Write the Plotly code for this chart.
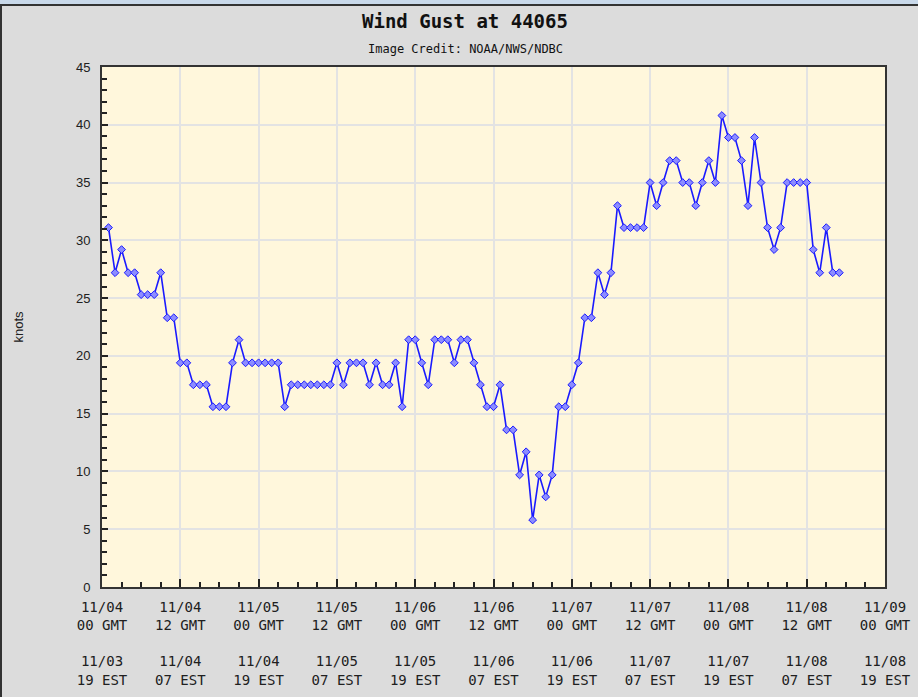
import plotly.graph_objects as go
import pandas as pd

# Wind gust values (knots), hourly from 11/04 01 GMT
gust_knots = [
    31.1, 27.2, 29.2, 27.2, 27.2, 25.3, 25.3, 25.3, 27.2, 23.3,
    23.3, 19.4, 19.4, 17.5, 17.5, 17.5, 15.6, 15.6, 15.6, 19.4,
    21.4, 19.4, 19.4, 19.4, 19.4, 19.4, 19.4, 15.6, 17.5, 17.5,
    17.5, 17.5, 17.5, 17.5, 17.5, 19.4, 17.5, 19.4, 19.4, 19.4,
    17.5, 19.4, 17.5, 17.5, 19.4, 15.6, 21.4, 21.4, 19.4, 17.5,
    21.4, 21.4, 21.4, 19.4, 21.4, 21.4, 19.4, 17.5, 15.6, 15.6,
    17.5, 13.6, 13.6, 9.7, 11.7, 5.8, 9.7, 7.8, 9.7, 15.6,
    15.6, 17.5, 19.4, 23.3, 23.3, 27.2, 25.3, 27.2, 33.0, 31.1,
    31.1, 31.1, 31.1, 35.0, 33.0, 35.0, 36.9, 36.9, 35.0, 35.0,
    33.0, 35.0, 36.9, 35.0, 40.8, 38.9, 38.9, 36.9, 33.0, 38.9,
    35.0, 31.1, 29.2, 31.1, 35.0, 35.0, 35.0, 35.0, 29.2, 27.2,
    31.1, 27.2, 27.2,
]
times = pd.date_range("2019-11-04 01:00", periods=len(gust_knots), freq="h")

tick_times = pd.date_range("2019-11-04 00:00", "2019-11-09 00:00", freq="12h")
tick_gmt = ["11/04<br>00 GMT", "11/04<br>12 GMT", "11/05<br>00 GMT", "11/05<br>12 GMT",
            "11/06<br>00 GMT", "11/06<br>12 GMT", "11/07<br>00 GMT", "11/07<br>12 GMT",
            "11/08<br>00 GMT", "11/08<br>12 GMT", "11/09<br>00 GMT"]
tick_est = ["11/03<br>19 EST", "11/04<br>07 EST", "11/04<br>19 EST", "11/05<br>07 EST",
            "11/05<br>19 EST", "11/06<br>07 EST", "11/06<br>19 EST", "11/07<br>07 EST",
            "11/07<br>19 EST", "11/08<br>07 EST", "11/08<br>19 EST"]
tick_text = [g + "<br><br>" + e for g, e in zip(tick_gmt, tick_est)]

fig = go.Figure()
fig.add_trace(go.Scatter(
    x=times, y=gust_knots, mode="lines+markers",
    line=dict(color="#1a1aff", width=1.6),
    marker=dict(symbol="diamond", size=6, color="#8c8cff",
                line=dict(color="#1a1aff", width=1)),
    hoverinfo="x+y",
))

mono = "DejaVu Sans Mono"
fig.update_layout(
    width=918, height=697,
    paper_bgcolor="#dcdcdc",
    plot_bgcolor="#fff7dc",
    margin=dict(l=102, r=33, t=67, b=110),
    showlegend=False,
    font=dict(family="Liberation Sans", color="#202020", size=13),
    annotations=[
        dict(text="<b>Wind Gust at 44065</b>", xref="paper", yref="paper",
             x=0.464, y=1.0 + (67 - 21) / 520, xanchor="center", yanchor="middle",
             showarrow=False, font=dict(family=mono, size=19, color="#111")),
        dict(text="Image Credit: NOAA/NWS/NDBC", xref="paper", yref="paper",
             x=0.464, y=1.0 + (67 - 49) / 520, xanchor="center", yanchor="middle",
             showarrow=False, font=dict(family=mono, size=12, color="#111")),
    ],
    shapes=[
        dict(type="rect", xref="paper", yref="paper",
             x0=-102 / 783, x1=(918 - 102) / 783,
             y0=1 + (67 - 5) / 520, y1=1 + 67 / 520,
             fillcolor="#c9d9ea", line=dict(width=0), layer="below"),
        dict(type="line", xref="paper", yref="paper",
             x0=-102 / 783, x1=(918 - 102) / 783,
             y0=1 + (67 - 5) / 520, y1=1 + (67 - 5) / 520,
             line=dict(color="#333", width=2)),
        dict(type="line", xref="paper", yref="paper",
             x0=-101 / 783, x1=-101 / 783,
             y0=-110 / 520, y1=1 + (67 - 5) / 520,
             line=dict(color="#333", width=2)),
    ],
)

fig.update_xaxes(
    range=[tick_times[0], tick_times[-1]],
    tickmode="array", tickvals=tick_times, ticktext=tick_text,
    ticks="inside", ticklen=8, tickcolor="#222", tickwidth=1.5,
    showgrid=True, gridcolor="#e3e3e3", gridwidth=1.5,
    showline=True, mirror=True, linecolor="#333", linewidth=2,
    zeroline=False, ticklabelstandoff=6, automargin=False,
    tickfont=dict(family=mono, size=14, color="#202020"),
    minor=dict(dtick=3 * 3600 * 1000, tick0="2019-11-04", ticks="inside",
               ticklen=5, tickcolor="#222", showgrid=False),
)
fig.update_yaxes(
    range=[0, 45], dtick=5, tick0=0,
    ticks="inside", ticklen=6, tickcolor="#222", tickwidth=1.5,
    showgrid=True, gridcolor="#e3e3e3", gridwidth=1.5,
    showline=True, mirror=True, linecolor="#333", linewidth=2,
    zeroline=False, ticklabelstandoff=7, automargin=False,
    tickfont=dict(family="Liberation Sans", size=13, color="#202020"),
    title=dict(text="knots", standoff=49,
               font=dict(family="Liberation Sans", size=13, color="#202020")),
    minor=dict(dtick=1, ticks="inside", ticklen=5, tickcolor="#222", showgrid=False),
)

fig.write_html("out.html", config={"displayModeBar": False},
               post_script="document.body.style.margin='0';document.body.style.overflow='hidden';")
